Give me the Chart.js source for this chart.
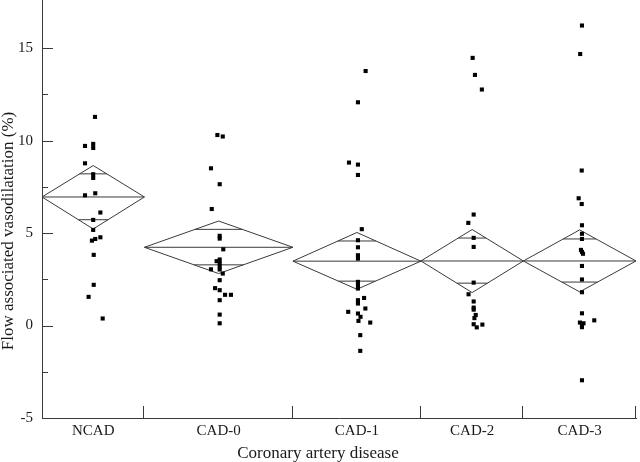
<!DOCTYPE html>
<html>
<head>
<meta charset="utf-8">
<script src="https://cdn.jsdelivr.net/npm/chart.js@4.4.1/dist/chart.umd.min.js"></script>
<style>
  html, body { margin: 0; padding: 0; background: #fff; }
  canvas { display: block; }
</style>
</head>
<body>
<canvas id="chartvas" width="640" height="462"></canvas>
<script>
'use strict';

// groups on the x axis, width of each band follows the group size
const groups = ['NCAD', 'CAD-0', 'CAD-1', 'CAD-2', 'CAD-3'];
const groupSize = [20, 29, 25, 20, 22];

// means diamonds (mean, 95% CI, overlap marks)
const means = [6.95, 4.23, 3.48, 3.49, 3.49];
const ciHigh = [8.65, 5.65, 5.03, 5.19, 5.17];
const ciLow = [5.22, 2.81, 1.96, 1.78, 1.82];
const overlapHigh = [8.20, 5.20, 4.57, 4.73, 4.68];
const overlapLow = [5.72, 3.28, 2.40, 2.29, 2.35];

// individual values (%) and small horizontal jitter (in subjects)
const ncadValues = [11.28, 9.82, 9.60, 9.71, 8.77, 8.18, 7.98, 7.04, 7.15, 6.11, 5.71, 5.17, 4.59, 4.68, 4.77, 3.82, 2.20, 1.55, 0.38];
const ncadJitter = [0.35, 0, 0, -1.6, -1.6, 0, 0, -1.6, 0.4, 1.4, 0, 0, -0.25, 0.4, 1.4, 0.1, 0.1, -0.9, 1.85];

const cad0Values = [10.30, 10.22, 8.50, 7.64, 6.30, 4.85, 4.70, 4.12, 3.57, 3.48, 3.38, 3.20, 3.04, 3.03, 2.81, 2.45, 2.02, 1.91, 1.66, 1.66, 1.37, 0.59, 0.12];
const cad0Jitter = [-0.25, 0.8, -1.5, 0.2, -1.35, 0.2, 0.2, 0.9, 0.2, -0.4, 0.2, 0.2, -1.5, 0.2, 0.8, 0.2, -0.7, 0.2, 1.25, 2.4, 0.2, 0.2, 0.2];

const cad1Values = [13.76, 12.07, 8.81, 8.70, 8.14, 5.21, 4.61, 4.23, 3.80, 3.62, 2.36, 2.18, 2.00, 1.49, 1.37, 1.19, 0.92, 0.74, 0.65, 0.47, 0.25, 0.16, -0.52, -1.37];
const cad1Jitter = [1.7, 0.2, -1.55, 0.2, 0.2, 0.95, 0.2, 0.2, 0.2, 0.2, 0.2, 0.2, 0.2, 1.4, 0.2, 0.2, 1.65, -1.7, 0.2, 0.7, 0.3, 2.6, 0.65, 0.65];

const cad2Values = [14.47, 13.55, 12.76, 6.00, 5.55, 4.74, 4.25, 2.32, 1.69, 1.30, 0.97, 0.86, 0.57, 0.40, 0.07, -0.10, 0.05];
const cad2Jitter = [0.1, 0.55, 1.9, 0.3, -0.75, 0.3, 0.3, 0.3, -0.7, 0.3, 0.3, 0.3, 0.7, 0.45, 0.3, 0.9, 2.0];

const cad3Values = [16.22, 14.68, 8.38, 6.88, 6.57, 5.42, 4.96, 4.68, 4.09, 3.98, 3.88, 3.22, 2.49, 1.80, 0.66, 0.16, 0.12, 0.02, -0.09, 0.28, -2.96];
const cad3Jitter = [0.45, 0.1, 0.4, -0.2, 0.4, 0.45, 0.45, 0.45, 0.25, 0.45, 0.65, 0.45, 0.45, 0.45, 0.45, 0.05, 0.75, 0.45, 0.45, 2.85, 0.45];

const yTicks = [-5, 0, 5, 10, 15];
const yMinorTicks = [-5, -2.5, 0, 2.5, 5, 7.5, 10, 12.5, 15];

const allValues = [ncadValues, cad0Values, cad1Values, cad2Values, cad3Values];
const allJitter = [ncadJitter, cad0Jitter, cad1Jitter, cad2Jitter, cad3Jitter];

const ink = '#1a1a1a';
const lineInk = '#3a3a3a';
const serif = "'Liberation Serif', 'Times New Roman', serif";
const font = { family: serif, size: 15 };
const titleFont = { family: serif, size: 17, weight: 'normal', lineHeight: 1 };

// band edges along the x axis
const bounds = [0];
groupSize.forEach(n => bounds.push(bounds[bounds.length - 1] + n));
const centers = groupSize.map((n, i) => bounds[i] + n / 2);

let datasets = [];

// points first so they sit on top
allValues.forEach((vals, i) => {
  datasets.push({
    data: vals.map((v, k) => ({ x: centers[i] + allJitter[i][k], y: v })),
    pointStyle: 'rect',
    pointRadius: 2.9,
    pointBorderWidth: 0,
    backgroundColor: '#000',
    borderColor: '#000',
    showLine: false
  });
});

// diamonds, mean lines and overlap marks
groups.forEach((g, i) => {
  const L = bounds[i], R = bounds[i + 1], C = centers[i];
  const half = (R - L) / 2;
  const line = pts => ({
    data: pts,
    showLine: true,
    pointRadius: 0,
    borderColor: lineInk,
    borderWidth: 1,
    fill: false,
    tension: 0
  });
  datasets.push(line([
    { x: L, y: means[i] }, { x: C, y: ciHigh[i] }, { x: R, y: means[i] },
    { x: C, y: ciLow[i] }, { x: L, y: means[i] }
  ]));
  datasets.push(line([{ x: L, y: means[i] }, { x: R, y: means[i] }]));
  // overlap marks end where they meet the diamond edges
  const wHi = half * (ciHigh[i] - overlapHigh[i]) / (ciHigh[i] - means[i]);
  const wLo = half * (overlapLow[i] - ciLow[i]) / (means[i] - ciLow[i]);
  datasets.push(line([{ x: C - wHi, y: overlapHigh[i] }, { x: C + wHi, y: overlapHigh[i] }]));
  datasets.push(line([{ x: C - wLo, y: overlapLow[i] }, { x: C + wLo, y: overlapLow[i] }]));
});

// short tick marks pointing into the plot
const insideTicks = {
  id: 'insideTicks',
  afterDraw(chart) {
    const { ctx, chartArea, scales: { x, y } } = chart;
    ctx.save();
    ctx.strokeStyle = lineInk;
    ctx.lineWidth = 1;
    ctx.beginPath();
    yMinorTicks.forEach(v => {
      const py = Math.round(y.getPixelForValue(v)) + 0.5;
      const len = v % 5 === 0 ? 11 : 6;
      ctx.moveTo(chartArea.left, py);
      ctx.lineTo(chartArea.left + len, py);
    });
    bounds.slice(1).forEach(v => {
      const px = Math.round(x.getPixelForValue(v)) - 0.5;
      ctx.moveTo(px, chartArea.bottom);
      ctx.lineTo(px, chartArea.bottom - 12);
    });
    ctx.stroke();
    ctx.restore();
  }
};

new Chart(document.getElementById('chartvas'), {
  type: 'scatter',
  data: { datasets },
  options: {
    responsive: false,
    animation: false,
    events: [],
    layout: { autoPadding: false, padding: { left: 0, right: 4, top: 0, bottom: 0 } },
    plugins: {
      legend: { display: false },
      tooltip: { enabled: false },
      title: {
        display: true,
        position: 'bottom',
        text: 'Coronary artery disease',
        color: ink,
        font: titleFont,
        padding: { top: 0, bottom: 0 }
      },
      subtitle: {
        display: true,
        position: 'left',
        text: 'Flow associated vasodilatation (%)',
        color: ink,
        font: titleFont,
        padding: { top: 0, bottom: 0 }
      }
    },
    scales: {
      x: {
        type: 'linear',
        min: bounds[0],
        max: bounds[bounds.length - 1],
        afterBuildTicks: scale => { scale.ticks = centers.map(v => ({ value: v })); },
        afterFit: scale => {
          scale.height = 27;
          scale.paddingLeft = 0;
          scale.paddingRight = 0;
        },
        grid: { display: false, drawTicks: false },
        border: { display: true, color: lineInk, width: 1 },
        ticks: {
          padding: 4,
          color: ink,
          font,
          maxRotation: 0,
          autoSkip: false,
          callback: (v, idx) => groups[idx]
        }
      },
      y: {
        type: 'linear',
        min: -5,
        max: 17.6,
        afterBuildTicks: scale => { scale.ticks = yTicks.map(v => ({ value: v })); },
        afterFit: scale => {
          scale.width = 25;
          scale.paddingTop = 0;
          scale.paddingBottom = 0;
        },
        grid: { display: false, drawTicks: false },
        border: { display: true, color: lineInk, width: 1 },
        ticks: { padding: 9, color: ink, font }
      }
    }
  },
  plugins: [insideTicks]
});
</script>
</body>
</html>
